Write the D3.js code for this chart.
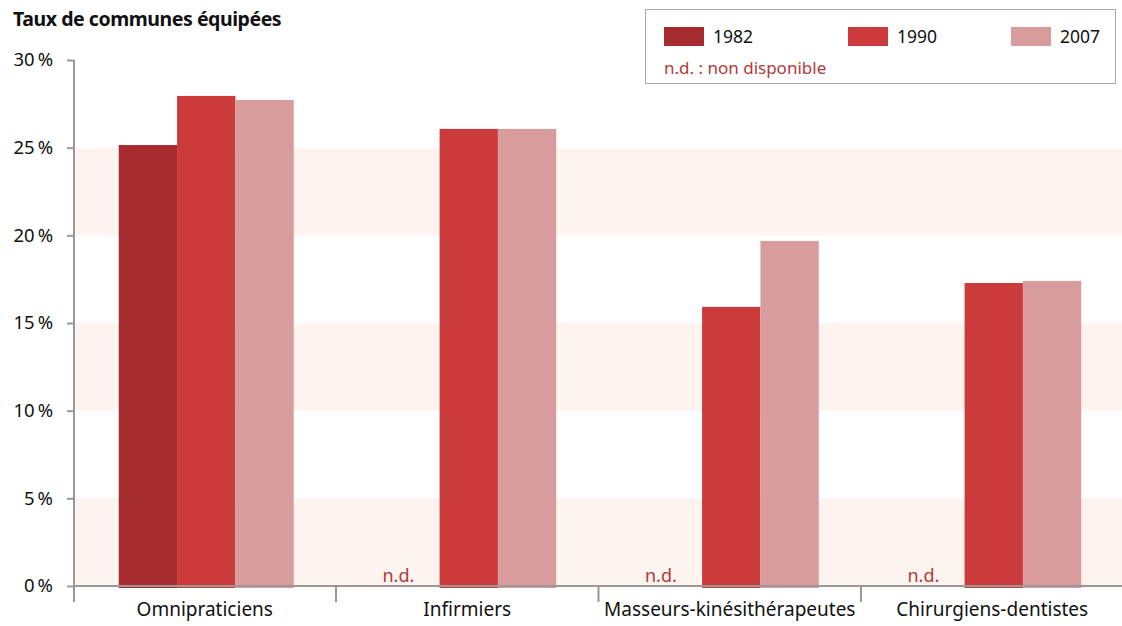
<!DOCTYPE html>
<html><head><meta charset="utf-8">
<script src="https://cdn.jsdelivr.net/npm/d3@7"></script>
<style>
html,body{margin:0;padding:0;background:#fff;}
svg text{font-family:"Noto Sans","Open Sans",sans-serif;}
</style></head>
<body>
<svg id="chart" width="1122" height="626"></svg>
<script>
const categories = ["Omnipraticiens","Infirmiers","Masseurs-kinésithérapeutes","Chirurgiens-dentistes"];
const years = ["1982","1990","2007"];
const values1982 = [25.15, null, null, null];
const values1990 = [27.95, 26.07, 15.92, 17.28];
const values2007 = [27.72, 26.07, 19.68, 17.40];
const yTicks = [0,5,10,15,20,25,30];
const title = "Taux de communes équipées";
const ndLabel = "n.d.";
const ndLegend = "n.d. : non disponible";

const colors = {"1982":"#a52b2e","1990":"#cc3b3c","2007":"#d99c9d"};
const series = {"1982":values1982,"1990":values1990,"2007":values2007};

const svg = d3.select("#chart");
const y = d3.scaleLinear().domain([0,30]).range([586,60]);
const x = d3.scaleBand().domain(categories).range([73.5,1123.5]).paddingInner(0).paddingOuter(0);
const groupW = 175;
const xs = d3.scaleBand().domain(years).range([0,groupW]);

// bands
const bandPairs = [[0,5],[10,15],[20,25]];
svg.append("g").selectAll("rect").data(bandPairs).join("rect")
  .attr("x",75).attr("width",1122-75)
  .attr("y",d=>y(d[1])).attr("height",d=>y(d[0])-y(d[1]))
  .attr("fill","#fdf4ef");

// bars
const gBars = svg.append("g");
categories.forEach((c,i)=>{
  const x0 = x(c) + x.bandwidth()/2 - groupW/2 + 1.5;
  years.forEach(yr=>{
    const v = series[yr][i];
    if(v==null){
      gBars.append("text").attr("x", x0 + xs(yr) + xs.bandwidth()/2 - 12).attr("y",582)
        .attr("text-anchor","middle").attr("fill","#b33a3a").attr("font-size",18).text(ndLabel);
    } else {
      gBars.append("rect").attr("x", x0 + xs(yr)).attr("width", xs.bandwidth())
        .attr("y", y(v)).attr("height", y(0)-y(v) + 2).attr("fill", colors[yr]);
    }
  });
});

// y axis
const yAxis = d3.axisLeft(y).tickValues(yTicks).tickSize(7).tickFormat(d=>d+"\u2009%");
const gy = svg.append("g").attr("transform","translate(74,0)").call(yAxis);
gy.select(".domain").remove();
gy.selectAll(".tick line").attr("stroke","#999").attr("stroke-width",2);
gy.selectAll(".tick text").attr("x",-21).attr("font-size",18.5).attr("fill","#111")
  .attr("font-family","'Noto Sans',sans-serif");
svg.append("line").attr("x1",74).attr("x2",74).attr("y1",60).attr("y2",602).attr("stroke","#999").attr("stroke-width",2);

// x axis
svg.append("line").attr("x1",74).attr("x2",1122).attr("y1",586).attr("y2",586).attr("stroke","#999").attr("stroke-width",2);
const xAxis = d3.axisBottom(x).tickSize(0).tickPadding(17);
const gx = svg.append("g").attr("transform","translate(0,586)").call(xAxis);
gx.select(".domain").remove();
gx.selectAll(".tick text").attr("font-size",19).attr("fill","#111")
  .attr("font-family","'Noto Sans',sans-serif");
svg.append("g").selectAll("line").data(categories.slice(1)).join("line")
  .attr("x1",d=>x(d)).attr("x2",d=>x(d)).attr("y1",587).attr("y2",602)
  .attr("stroke","#999").attr("stroke-width",2);

// title
svg.append("text").attr("x",13).attr("y",26).attr("font-size",19.5).attr("font-weight","bold")
  .attr("letter-spacing",-0.45).attr("fill","#111").text(title);

// legend
const lg = svg.append("g");
lg.append("rect").attr("x",645.5).attr("y",9.5).attr("width",470).attr("height",74)
  .attr("fill","#fff").attr("stroke","#aaa").attr("stroke-width",1);
const legX = d3.scaleOrdinal().domain(years).range([664,848,1011]);
years.forEach(yr=>{
  lg.append("rect").attr("x",legX(yr)).attr("y",27).attr("width",40).attr("height",19).attr("fill",colors[yr]);
  lg.append("text").attr("x",legX(yr)+49).attr("y",43).attr("font-size",17.5).attr("fill","#111").text(yr);
});
lg.append("text").attr("x",664).attr("y",74).attr("font-size",17).attr("fill","#b33a3a").text(ndLegend);
</script>
</body></html>
